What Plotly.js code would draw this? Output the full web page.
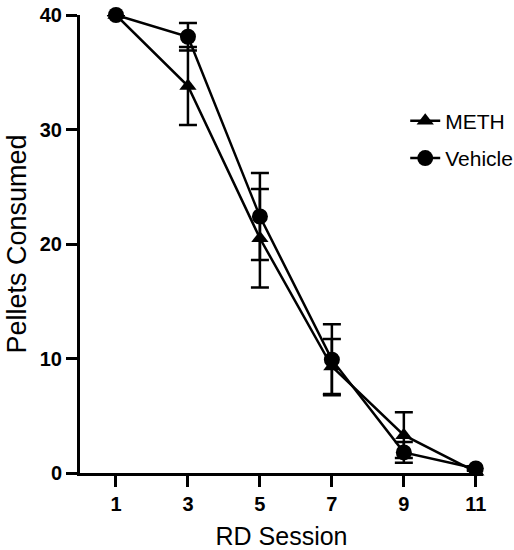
<!DOCTYPE html>
<html>
<head>
<meta charset="utf-8">
<script src="https://cdn.plot.ly/plotly-3.0.1.min.js"></script>
<style>html,body{margin:0;padding:0;background:#fff;}</style>
</head>
<body>
<div id="chart" style="width:514px;height:550px;"></div>
<script>
var sessions = [1, 3, 5, 7, 9, 11];
var methValues = [40, 33.8, 20.5, 9.3, 3.3, 0.1];
var methErrors = [0, 3.4, 4.3, 2.4, 2.0, 0.2];
var vehicleValues = [40, 38.1, 22.4, 9.9, 1.8, 0.4];
var vehicleErrors = [0, 1.2, 3.8, 3.1, 0.9, 0.2];
var xTickVals = [1, 3, 5, 7, 9, 11];
var yTickVals = [0, 10, 20, 30, 40];

var FONT = 'Liberation Sans, Arial, Helvetica, sans-serif';

var meth = {
  x: sessions, y: methValues, name: 'METH', legendgroup: 'a',
  type: 'scatter', mode: 'lines+markers', cliponaxis: false,
  line: {color: '#000', width: 2.5},
  marker: {symbol: 'triangle-up', size: 15, color: '#000'},
  error_y: {type: 'data', array: methErrors, visible: true, color: '#000', thickness: 2.5, width: 9}
};
var vehicle = {
  x: sessions, y: vehicleValues, name: 'Vehicle', legendgroup: 'b',
  type: 'scatter', mode: 'lines+markers', cliponaxis: false,
  line: {color: '#000', width: 2.5},
  marker: {symbol: 'circle', size: 16, color: '#000'},
  error_y: {type: 'data', array: vehicleErrors, visible: true, color: '#000', thickness: 2.5, width: 9}
};

var layout = {
  width: 514, height: 550,
  margin: {l: 80, r: 31, t: 15, b: 77, autoexpand: false},
  paper_bgcolor: '#fff', plot_bgcolor: '#fff',
  font: {family: FONT, color: '#000'},
  showlegend: true,
  legend: {x: 0.807, y: 0.813, xanchor: 'left', yanchor: 'top', xref: 'paper', yref: 'paper',
           font: {size: 21, family: FONT, color: '#000'}, tracegroupgap: 7,
           traceorder: 'grouped', bgcolor: 'rgba(0,0,0,0)'},
  xaxis: {
    range: [0, 11.2], tickvals: xTickVals, ticktext: xTickVals.map(String),
    showline: true, linecolor: '#000', linewidth: 3, showgrid: false, zeroline: false,
    ticks: 'outside', ticklen: 11, tickwidth: 3, tickcolor: '#000',
    tickfont: {size: 20, family: FONT, weight: 'bold'},
    title: {text: 'RD Session', font: {size: 25, family: FONT}, standoff: 15}
  },
  yaxis: {
    range: [0, 40], tickvals: yTickVals, ticktext: yTickVals.map(String),
    showline: true, linecolor: '#000', linewidth: 3, showgrid: false, zeroline: false,
    ticks: 'outside', ticklen: 11, tickwidth: 3, tickcolor: '#000',
    tickfont: {size: 20, family: FONT, weight: 'bold'},
    title: {text: 'Pellets Consumed', font: {size: 27, family: FONT}, standoff: 6}
  }
};

Plotly.newPlot('chart', [meth, vehicle], layout, {displayModeBar: false, staticPlot: true});
</script>
</body>
</html>
